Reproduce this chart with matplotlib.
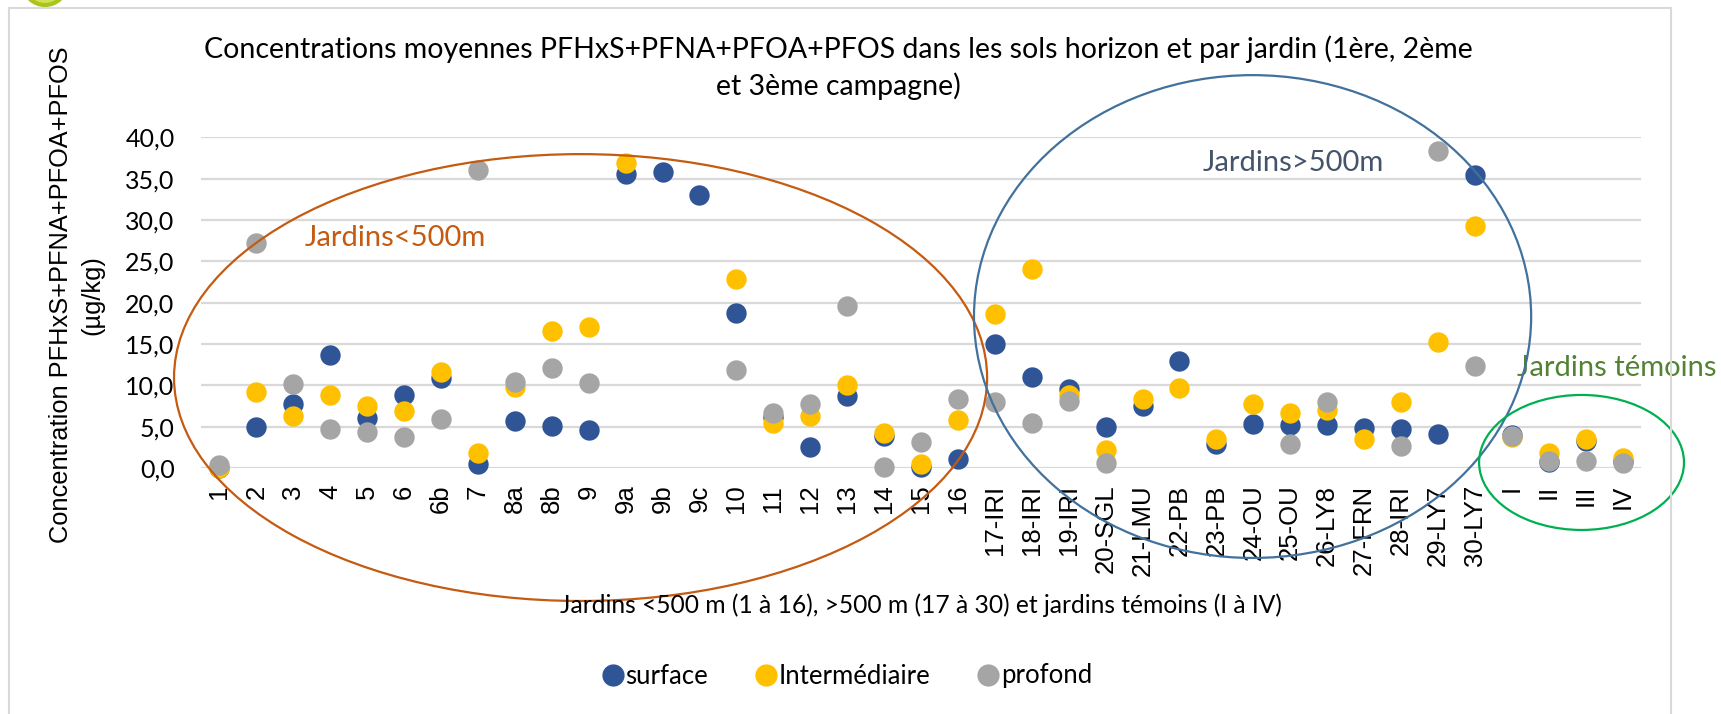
import numpy as np
import matplotlib
matplotlib.use('Agg')
import matplotlib.pyplot as plt
from matplotlib.patches import Ellipse
from matplotlib.lines import Line2D

# données (µg/kg)
jardins = ['1', '2', '3', '4', '5', '6', '6b', '7', '8a', '8b', '9', '9a', '9b', '9c',
           '10', '11', '12', '13', '14', '15', '16',
           '17-IRI', '18-IRI', '19-IRI', '20-SGL', '21-LMU', '22-PB', '23-PB', '24-OU',
           '25-OU', '26-LY8', '27-FRN', '28-IRI', '29-LY7', '30-LY7',
           'I', 'II', 'III', 'IV']
nan = np.nan
surface = [0.0, 5.0, 7.8, 13.7, 6.0, 8.8, 10.9, 0.5, 5.7, 5.1, 4.6, 35.6, 35.75, 33.0,
           18.8, 6.2, 2.6, 8.7, 3.9, 0.1, 1.1,
           15.0, 11.0, 9.5, 4.9, 7.5, 13.0, 2.9, 5.3, 5.2, 5.2, 4.8, 4.7, 4.1, 35.4,
           4.0, 0.7, 3.3, 0.9]
intermediaire = [0.0, 9.2, 6.3, 8.8, 7.5, 6.9, 11.6, 1.8, 9.8, 16.6, 17.0, 36.9, nan, nan,
                 22.9, 5.5, 6.3, 10.0, 4.2, 0.45, 5.8,
                 18.6, 24.1, 8.8, 2.2, 8.3, 9.7, 3.5, 7.8, 6.6, 7.0, 3.5, 8.0, 15.3, 29.3,
                 3.8, 1.85, 3.5, 1.2]
profond = [0.4, 27.2, 10.2, 4.7, 4.4, 3.75, 5.9, 36.0, 10.4, 12.1, 10.3, nan, nan, nan,
           11.9, 6.7, 7.7, 19.6, 0.1, 3.1, 8.4,
           8.0, 5.4, 8.1, 0.6, nan, nan, nan, nan, 2.9, 8.0, nan, 2.7, 38.3, 12.3,
           3.9, 0.8, 0.9, 0.65]

W, H = 1721, 714
plt.rcParams['font.family'] = ['Lato', 'DejaVu Sans']

fig = plt.figure(figsize=(W / 100, H / 100), dpi=100)
ax = fig.add_axes([201 / W, 1 - 468 / H, 1440 / W, (468 - 137.3) / H])

x = np.arange(len(jardins))
ms = 215
ax.scatter(x, surface, s=ms, color='#2F5597', linewidths=0, zorder=3, clip_on=False)
ax.scatter(x, intermediaire, s=ms, color='#FFC000', linewidths=0, zorder=4, clip_on=False)
ax.scatter(x, profond, s=ms, color='#A5A5A5', linewidths=0, zorder=5, clip_on=False)

ax.set_xlim(-0.5, len(jardins) - 0.5)
ax.set_ylim(0, 40)
yt = np.arange(0, 41, 5)
ax.set_yticks(yt)
ax.set_yticklabels([f'{v:.1f}'.replace('.', ',') for v in yt], fontsize=18)
ax.set_xticks(x)
ax.set_xticklabels(jardins, rotation=90, fontsize=18.5, family=['Liberation Sans', 'DejaVu Sans'])
ax.tick_params(axis='both', length=0)
ax.tick_params(axis='x', pad=12)
ax.tick_params(axis='y', pad=19)
ax.grid(axis='y', color='#D9D9D9', lw=1.6)
ax.set_axisbelow(True)
for sp in ax.spines.values():
    sp.set_visible(False)

# ellipses de regroupement
ax.add_patch(Ellipse((9.78, 10.94), 22.02, 54.05, fill=False, ec='#C55A11', lw=1.6,
                     clip_on=False, zorder=6))
ax.add_patch(Ellipse((27.98, 18.32), 15.09, 58.4, fill=False, ec='#41719C', lw=1.6,
                     clip_on=False, zorder=6))
ax.add_patch(Ellipse((36.89, 0.67), 5.55, 16.33, fill=False, ec='#00B050', lw=1.6,
                     clip_on=False, zorder=6))
ax.text(4.76, 27.8, 'Jardins<500m', color='#C55A11', fontsize=21, ha='center', va='center')
ax.text(29.09, 36.9, 'Jardins>500m', color='#44546A', fontsize=21, ha='center', va='center')
ax.text(37.85, 12.1, 'Jardins témoins', color='#548235', fontsize=21, ha='center',
        va='center', clip_on=False)

# textes
fig.text(838 / W, 1 - 68 / H,
         'Concentrations moyennes PFHxS+PFNA+PFOA+PFOS dans les sols horizon et par jardin (1ère, 2ème\n'
         'et 3ème campagne)', ha='center', va='center', fontsize=20.5, linespacing=1.42)
fig.text(76.5 / W, 1 - 295 / H, 'Concentration PFHxS+PFNA+PFOA+PFOS\n(µg/kg)',
         rotation=90, ha='center', va='center', multialignment='center', fontsize=18.3,
         family=['Liberation Sans', 'DejaVu Sans'], linespacing=1.4)
fig.text(921 / W, 1 - 605 / H,
         'Jardins <500 m (1 à 16), >500 m (17 à 30) et jardins témoins (I à IV)',
         ha='center', va='center', fontsize=17.7)

handles = [Line2D([], [], ls='', marker='o', ms=16, color=c, mew=0)
           for c in ['#2F5597', '#FFC000', '#A5A5A5']]
fig.legend(handles, ['surface', 'Intermédiaire', 'profond'], loc='center',
           bbox_to_anchor=(848 / W, 1 - 676 / H), ncol=3, frameon=False, fontsize=18.5,
           handlelength=0.7, handletextpad=0.15, columnspacing=1.9)

# cadre du graphique
for xs, ys in [((8.5, 8.5), (714, 7.5)), ((8.5, 1671), (7.5, 7.5)), ((1671, 1671), (7.5, 714))]:
    fig.add_artist(Line2D([v / W for v in xs], [1 - v / H for v in ys], color='#D9D9D9', lw=1.5))
# pastille du logo en haut à gauche
fig.add_artist(Ellipse((45 / W, 1 + 17 / H), 44 / W, 44 / H, fc='#D4E157', ec='#A9C41C', lw=3))

fig.savefig('out.png', dpi=100)
